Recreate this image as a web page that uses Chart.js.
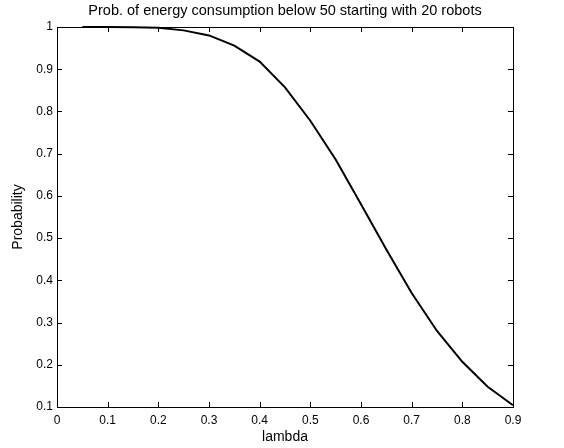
<!DOCTYPE html>
<html>
<head>
<meta charset="utf-8">
<script src="https://cdn.jsdelivr.net/npm/chart.js@4/dist/chart.umd.min.js"></script>
<style>
  html, body { margin: 0; padding: 0; background: #fff; }
  #wrap { width: 564px; height: 448px; }
</style>
</head>
<body>
<div id="wrap"><canvas id="c" width="564" height="448"></canvas></div>
<script>
const lambdaValues = [0.05, 0.10, 0.15, 0.20, 0.25, 0.30, 0.35, 0.40, 0.45, 0.50, 0.55, 0.60, 0.65, 0.70, 0.75, 0.80, 0.85, 0.90];
const probabilityValues = [1.0, 1.0, 0.9995, 0.998, 0.992, 0.980, 0.956, 0.918, 0.857, 0.778, 0.686, 0.580, 0.473, 0.370, 0.280, 0.207, 0.148, 0.104];
const xTickValues = [0, 0.1, 0.2, 0.3, 0.4, 0.5, 0.6, 0.7, 0.8, 0.9];
const xTickLabels = ['0', '0.1', '0.2', '0.3', '0.4', '0.5', '0.6', '0.7', '0.8', '0.9'];
const yTickValues = [0.1, 0.2, 0.3, 0.4, 0.5, 0.6, 0.7, 0.8, 0.9, 1];
const yTickLabels = ['0.1', '0.2', '0.3', '0.4', '0.5', '0.6', '0.7', '0.8', '0.9', '1'];
const chartTitle = 'Prob. of energy consumption below 50 starting with 20 robots';
const xTitle = 'lambda';
const yTitle = 'Probability';

const FONT = "'Liberation Sans', Arial, Helvetica, sans-serif";

const boxTicks = {
  id: 'boxTicks',
  afterDatasetsDraw(chart) {
    const {ctx, chartArea: a, scales: {x, y}} = chart;
    const L = 5;
    ctx.save();
    ctx.strokeStyle = '#000';
    ctx.lineWidth = 1;
    ctx.beginPath();
    xTickValues.forEach(v => {
      const px = Math.round(x.getPixelForValue(v)) + 0.5;
      ctx.moveTo(px, a.bottom); ctx.lineTo(px, a.bottom - L);
      ctx.moveTo(px, a.top); ctx.lineTo(px, a.top + L);
    });
    yTickValues.forEach(v => {
      const py = Math.round(y.getPixelForValue(v)) + 0.5;
      ctx.moveTo(a.left, py); ctx.lineTo(a.left + L, py);
      ctx.moveTo(a.right, py); ctx.lineTo(a.right - L, py);
    });
    ctx.stroke();
    ctx.strokeRect(Math.round(a.left) + 0.5, Math.round(a.top) + 0.5,
                   Math.round(a.right - a.left), Math.round(a.bottom - a.top));
    ctx.restore();
  }
};

new Chart(document.getElementById('c'), {
  type: 'line',
  data: {
    datasets: [{
      data: lambdaValues.map((v, i) => ({x: v, y: probabilityValues[i]})),
      borderColor: '#000',
      borderWidth: 2,
      pointRadius: 0,
      tension: 0,
      fill: false,
      clip: false
    }]
  },
  options: {
    responsive: false,
    animation: false,
    devicePixelRatio: 1,
    layout: { padding: { left: 0, right: 51, top: 0, bottom: 0 } },
    plugins: {
      legend: { display: false },
      tooltip: { enabled: false },
      title: {
        display: true,
        fullSize: false,
        text: chartTitle,
        color: '#000',
        font: { family: FONT, size: 14.5, weight: 'normal' },
        padding: { top: 2, bottom: 7.6 }
      }
    },
    scales: {
      x: {
        type: 'linear',
        min: 0, max: 0.9,
        afterBuildTicks: s => { s.ticks = xTickValues.map(v => ({value: v})); },
        afterFit: s => { s.height = 41; },
        grid: { display: false, drawTicks: false },
        border: { display: false },
        ticks: {
          color: '#000',
          font: { family: FONT, size: 12 },
          padding: 6,
          maxRotation: 0,
          autoSkip: false,
          callback: (v) => { const i = xTickValues.findIndex(t => Math.abs(t - v) < 1e-9); return i >= 0 ? xTickLabels[i] : ''; }
        },
        title: {
          display: true, text: xTitle, color: '#000',
          font: { family: FONT, size: 14 },
          padding: { top: 0, bottom: 2 }
        }
      },
      y: {
        type: 'linear',
        min: 0.1, max: 1,
        afterBuildTicks: s => { s.ticks = yTickValues.map(v => ({value: v})); },
        afterFit: s => { s.width = 57; },
        grid: { display: false, drawTicks: false },
        border: { display: false },
        ticks: {
          color: '#000',
          font: { family: FONT, size: 12 },
          padding: 4,
          autoSkip: false,
          callback: (v) => { const i = yTickValues.findIndex(t => Math.abs(t - v) < 1e-9); return i >= 0 ? yTickLabels[i] : ''; }
        },
        title: {
          display: true, text: yTitle, color: '#000',
          font: { family: FONT, size: 14 },
          padding: { top: 10, bottom: 0 }
        }
      }
    }
  },
  plugins: [boxTicks]
});
</script>
</body>
</html>
